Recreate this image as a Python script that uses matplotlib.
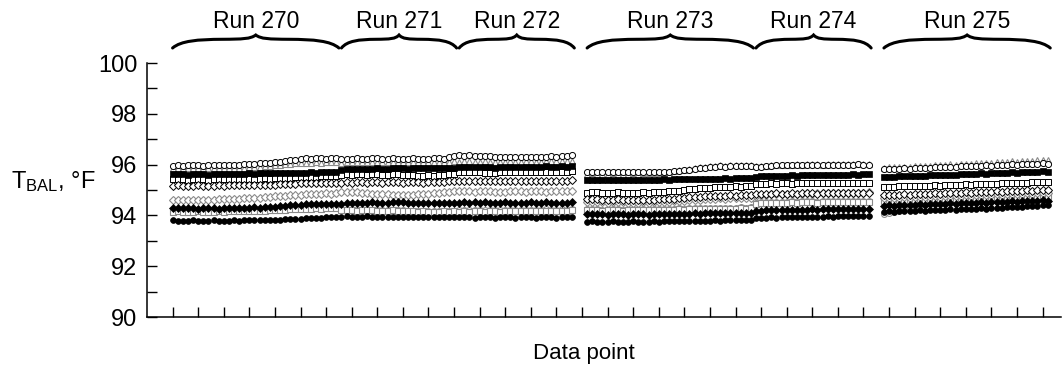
import matplotlib
matplotlib.use('Agg')
import matplotlib.pyplot as plt
import numpy as np
from matplotlib.path import Path
from matplotlib.patches import PathPatch
import matplotlib.transforms as mtransforms

plt.rcParams['font.family'] = ['Liberation Sans', 'DejaVu Sans']
plt.rcParams['mathtext.default'] = 'regular'

# ---------------- data ----------------
run_labels = ['Run 270', 'Run 271', 'Run 272', 'Run 273', 'Run 274', 'Run 275']
run_start = [5, 38, 61, 86, 119, 144]          # first data point index of each run
x_ticks = list(range(5, 180, 5))
y_ticks = [90, 92, 94, 96, 98, 100]

s_open_circle = [
    [95.96, 95.97, 95.96, 95.97, 95.98, 95.97, 95.96, 95.97, 95.98, 95.97, 95.98, 95.99, 95.98, 96.00, 96.01, 96.02, 96.03, 96.05, 96.06, 96.08, 96.10, 96.12, 96.15, 96.18, 96.20, 96.22, 96.25, 96.24, 96.26, 96.25, 96.24, 96.26, 96.25],
    [96.22, 96.24, 96.23, 96.25, 96.24, 96.23, 96.25, 96.26, 96.24, 96.23, 96.25, 96.24, 96.22, 96.24, 96.25, 96.23, 96.22, 96.24, 96.26, 96.25, 96.23, 96.28, 96.32],
    [96.36, 96.35, 96.37, 96.34, 96.33, 96.35, 96.32, 96.30, 96.31, 96.29, 96.30, 96.28, 96.30, 96.29, 96.31, 96.30, 96.28, 96.30, 96.32, 96.31, 96.33, 96.34, 96.36],
    [95.70, 95.71, 95.70, 95.69, 95.70, 95.71, 95.70, 95.69, 95.70, 95.71, 95.70, 95.69, 95.70, 95.71, 95.72, 95.71, 95.72, 95.74, 95.76, 95.78, 95.80, 95.83, 95.86, 95.88, 95.90, 95.92, 95.93, 95.92, 95.94, 95.93, 95.95, 95.94, 95.95],
    [95.90, 95.92, 95.94, 95.96, 95.97, 95.98, 95.97, 95.98, 95.99, 95.98, 95.97, 95.98, 95.99, 96.00, 95.99, 95.98, 95.99, 96.00, 95.99, 96.00, 96.01, 96.00, 95.99],
    [95.82, 95.83, 95.82, 95.84, 95.85, 95.84, 95.86, 95.87, 95.86, 95.88, 95.89, 95.90, 95.91, 95.90, 95.92, 95.93, 95.94, 95.93, 95.95, 95.96, 95.97, 95.96, 95.98, 95.99, 96.00, 96.01, 96.00, 96.02, 96.03, 96.02, 96.04, 96.05, 96.04],
]
s_gray_triangle = [
    [95.85, 95.86, 95.85, 95.87, 95.86, 95.85, 95.86, 95.87, 95.86, 95.85, 95.86, 95.87, 95.88, 95.87, 95.88, 95.90, 95.91, 95.92, 95.94, 95.95, 95.97, 95.99, 96.01, 96.03, 96.05, 96.06, 96.08, 96.07, 96.09, 96.08, 96.10, 96.09, 96.10],
    [96.08, 96.10, 96.09, 96.11, 96.10, 96.09, 96.11, 96.12, 96.10, 96.09, 96.11, 96.10, 96.09, 96.11, 96.12, 96.10, 96.09, 96.11, 96.12, 96.10, 96.11, 96.12, 96.13],
    [96.12, 96.13, 96.14, 96.12, 96.11, 96.13, 96.12, 96.10, 96.12, 96.11, 96.13, 96.12, 96.11, 96.13, 96.14, 96.12, 96.11, 96.13, 96.14, 96.13, 96.15, 96.14, 96.16],
    [95.64, 95.65, 95.64, 95.63, 95.64, 95.65, 95.64, 95.63, 95.64, 95.65, 95.64, 95.65, 95.66, 95.67, 95.68, 95.70, 95.72, 95.74, 95.77, 95.80, 95.83, 95.86, 95.89, 95.92, 95.94, 95.96, 95.97, 95.96, 95.98, 95.97, 95.99, 95.98, 96.00],
    [95.93, 95.95, 95.96, 95.97, 95.98, 95.99, 96.00, 95.99, 96.01, 96.00, 96.01, 96.02, 96.01, 96.00, 96.02, 96.01, 96.02, 96.03, 96.02, 96.01, 96.03, 96.02, 96.03],
    [95.88, 95.90, 95.89, 95.91, 95.92, 95.91, 95.93, 95.95, 95.94, 95.96, 95.98, 95.97, 95.99, 96.01, 96.00, 96.02, 96.04, 96.03, 96.05, 96.07, 96.06, 96.08, 96.10, 96.09, 96.11, 96.13, 96.12, 96.14, 96.16, 96.15, 96.17, 96.18, 96.17],
]
s_filled_square = [
    [95.62, 95.63, 95.62, 95.61, 95.62, 95.63, 95.62, 95.61, 95.62, 95.63, 95.62, 95.63, 95.64, 95.63, 95.64, 95.65, 95.64, 95.65, 95.66, 95.65, 95.66, 95.67, 95.66, 95.67, 95.68, 95.67, 95.68, 95.69, 95.68, 95.69, 95.70, 95.69, 95.70],
    [95.80, 95.82, 95.81, 95.83, 95.82, 95.84, 95.83, 95.85, 95.84, 95.83, 95.85, 95.86, 95.85, 95.84, 95.86, 95.87, 95.86, 95.85, 95.87, 95.88, 95.87, 95.86, 95.88],
    [95.90, 95.91, 95.89, 95.92, 95.90, 95.91, 95.89, 95.88, 95.90, 95.91, 95.92, 95.90, 95.89, 95.91, 95.92, 95.90, 95.91, 95.93, 95.92, 95.91, 95.93, 95.92, 95.94],
    [95.40, 95.41, 95.40, 95.39, 95.40, 95.41, 95.40, 95.39, 95.38, 95.40, 95.41, 95.40, 95.39, 95.40, 95.41, 95.42, 95.41, 95.42, 95.43, 95.42, 95.43, 95.44, 95.43, 95.44, 95.45, 95.44, 95.45, 95.46, 95.45, 95.46, 95.47, 95.46, 95.47],
    [95.52, 95.54, 95.55, 95.56, 95.55, 95.57, 95.56, 95.58, 95.57, 95.58, 95.59, 95.58, 95.59, 95.60, 95.59, 95.60, 95.61, 95.60, 95.61, 95.62, 95.61, 95.62, 95.63],
    [95.52, 95.53, 95.52, 95.54, 95.55, 95.54, 95.56, 95.57, 95.56, 95.58, 95.59, 95.58, 95.60, 95.61, 95.60, 95.62, 95.63, 95.62, 95.64, 95.65, 95.64, 95.66, 95.67, 95.66, 95.68, 95.69, 95.68, 95.70, 95.71, 95.70, 95.72, 95.73, 95.72],
]
s_open_square = [
    [95.42, 95.43, 95.42, 95.41, 95.42, 95.43, 95.42, 95.41, 95.42, 95.43, 95.42, 95.43, 95.44, 95.43, 95.44, 95.45, 95.44, 95.45, 95.46, 95.45, 95.47, 95.48, 95.47, 95.49, 95.50, 95.51, 95.52, 95.53, 95.52, 95.54, 95.55, 95.54, 95.55],
    [95.60, 95.62, 95.61, 95.63, 95.62, 95.61, 95.63, 95.62, 95.60, 95.61, 95.62, 95.63, 95.61, 95.60, 95.58, 95.57, 95.56, 95.58, 95.57, 95.59, 95.60, 95.62, 95.64],
    [95.70, 95.71, 95.69, 95.72, 95.70, 95.66, 95.68, 95.67, 95.69, 95.70, 95.71, 95.70, 95.69, 95.71, 95.72, 95.70, 95.71, 95.72, 95.71, 95.70, 95.72, 95.71, 95.73],
    [94.90, 94.92, 94.91, 94.90, 94.89, 94.90, 94.91, 94.90, 94.89, 94.88, 94.90, 94.91, 94.90, 94.92, 94.93, 94.94, 94.95, 94.96, 94.98, 95.00, 95.02, 95.04, 95.06, 95.08, 95.09, 95.10, 95.12, 95.11, 95.13, 95.14, 95.13, 95.15, 95.16],
    [95.22, 95.24, 95.25, 95.26, 95.25, 95.27, 95.26, 95.25, 95.27, 95.26, 95.27, 95.28, 95.27, 95.26, 95.28, 95.27, 95.28, 95.29, 95.28, 95.27, 95.29, 95.28, 95.29],
    [95.12, 95.13, 95.12, 95.14, 95.15, 95.14, 95.16, 95.15, 95.16, 95.17, 95.18, 95.17, 95.19, 95.20, 95.19, 95.21, 95.22, 95.21, 95.23, 95.22, 95.24, 95.25, 95.24, 95.26, 95.27, 95.26, 95.28, 95.29, 95.28, 95.30, 95.31, 95.30, 95.32],
]
s_open_diamond = [
    [95.17, 95.18, 95.17, 95.16, 95.17, 95.18, 95.17, 95.16, 95.17, 95.18, 95.17, 95.18, 95.19, 95.18, 95.19, 95.20, 95.19, 95.20, 95.21, 95.20, 95.21, 95.22, 95.23, 95.24, 95.25, 95.26, 95.27, 95.26, 95.28, 95.27, 95.28, 95.29, 95.28],
    [95.28, 95.30, 95.29, 95.31, 95.30, 95.29, 95.31, 95.30, 95.29, 95.30, 95.31, 95.30, 95.29, 95.31, 95.32, 95.30, 95.29, 95.31, 95.32, 95.31, 95.33, 95.34, 95.36],
    [95.34, 95.35, 95.34, 95.36, 95.35, 95.34, 95.36, 95.35, 95.34, 95.35, 95.36, 95.35, 95.34, 95.36, 95.37, 95.35, 95.36, 95.37, 95.36, 95.35, 95.37, 95.36, 95.38],
    [94.64, 94.65, 94.64, 94.62, 94.61, 94.62, 94.63, 94.62, 94.61, 94.60, 94.61, 94.62, 94.61, 94.62, 94.63, 94.64, 94.65, 94.66, 94.68, 94.70, 94.71, 94.72, 94.74, 94.75, 94.76, 94.77, 94.78, 94.77, 94.79, 94.78, 94.80, 94.79, 94.80],
    [94.84, 94.85, 94.86, 94.85, 94.87, 94.86, 94.85, 94.87, 94.86, 94.87, 94.88, 94.87, 94.86, 94.88, 94.87, 94.88, 94.89, 94.88, 94.87, 94.89, 94.88, 94.89, 94.90],
    [94.80, 94.81, 94.80, 94.82, 94.83, 94.82, 94.84, 94.85, 94.84, 94.86, 94.87, 94.86, 94.88, 94.89, 94.88, 94.90, 94.91, 94.90, 94.92, 94.93, 94.92, 94.94, 94.95, 94.94, 94.96, 94.97, 94.96, 94.98, 94.99, 94.98, 95.00, 95.01, 95.00],
]
s_gray_diamond = [
    [94.60, 94.61, 94.60, 94.59, 94.60, 94.61, 94.62, 94.61, 94.62, 94.63, 94.64, 94.63, 94.65, 94.66, 94.67, 94.68, 94.69, 94.70, 94.72, 94.73, 94.75, 94.76, 94.78, 94.79, 94.80, 94.82, 94.83, 94.84, 94.85, 94.86, 94.87, 94.86, 94.88],
    [94.92, 94.93, 94.92, 94.91, 94.90, 94.88, 94.86, 94.85, 94.84, 94.83, 94.82, 94.81, 94.80, 94.81, 94.82, 94.83, 94.84, 94.86, 94.88, 94.90, 94.91, 94.93, 94.95],
    [94.95, 94.96, 94.95, 94.94, 94.95, 94.96, 94.95, 94.94, 94.93, 94.94, 94.95, 94.96, 94.95, 94.94, 94.95, 94.96, 94.95, 94.94, 94.95, 94.96, 94.95, 94.96, 94.97],
    [94.52, 94.53, 94.52, 94.51, 94.50, 94.51, 94.52, 94.51, 94.50, 94.49, 94.50, 94.51, 94.50, 94.51, 94.52, 94.53, 94.54, 94.55, 94.57, 94.58, 94.60, 94.61, 94.62, 94.63, 94.65, 94.66, 94.67, 94.66, 94.68, 94.67, 94.69, 94.68, 94.70],
    [94.78, 94.80, 94.82, 94.83, 94.84, 94.85, 94.84, 94.86, 94.85, 94.86, 94.87, 94.86, 94.87, 94.88, 94.87, 94.88, 94.89, 94.88, 94.89, 94.90, 94.89, 94.90, 94.91],
    [94.68, 94.69, 94.68, 94.70, 94.71, 94.70, 94.72, 94.73, 94.72, 94.74, 94.75, 94.74, 94.76, 94.77, 94.76, 94.78, 94.79, 94.78, 94.80, 94.81, 94.80, 94.82, 94.83, 94.82, 94.84, 94.85, 94.84, 94.86, 94.87, 94.86, 94.88, 94.89, 94.88],
]
s_filled_diamond = [
    [94.30, 94.29, 94.28, 94.29, 94.28, 94.27, 94.28, 94.29, 94.28, 94.27, 94.28, 94.29, 94.30, 94.29, 94.30, 94.31, 94.32, 94.31, 94.33, 94.34, 94.35, 94.36, 94.38, 94.39, 94.41, 94.42, 94.43, 94.44, 94.45, 94.44, 94.46, 94.45, 94.46],
    [94.46, 94.48, 94.47, 94.49, 94.50, 94.49, 94.51, 94.50, 94.49, 94.50, 94.51, 94.52, 94.51, 94.50, 94.49, 94.48, 94.47, 94.48, 94.49, 94.48, 94.47, 94.48, 94.49],
    [94.50, 94.51, 94.49, 94.52, 94.50, 94.51, 94.49, 94.48, 94.50, 94.51, 94.50, 94.49, 94.48, 94.50, 94.51, 94.49, 94.50, 94.51, 94.50, 94.49, 94.50, 94.49, 94.51],
    [94.05, 94.06, 94.04, 94.05, 94.03, 94.04, 94.05, 94.04, 94.03, 94.04, 94.05, 94.04, 94.03, 94.04, 94.05, 94.06, 94.05, 94.06, 94.07, 94.06, 94.07, 94.08, 94.07, 94.08, 94.09, 94.08, 94.09, 94.10, 94.09, 94.10, 94.11, 94.10, 94.11],
    [94.18, 94.19, 94.20, 94.21, 94.20, 94.22, 94.21, 94.22, 94.23, 94.22, 94.23, 94.24, 94.23, 94.24, 94.25, 94.24, 94.25, 94.26, 94.25, 94.26, 94.27, 94.26, 94.27],
    [94.38, 94.39, 94.38, 94.40, 94.41, 94.40, 94.42, 94.43, 94.42, 94.44, 94.45, 94.44, 94.46, 94.47, 94.46, 94.48, 94.49, 94.48, 94.50, 94.51, 94.50, 94.52, 94.53, 94.52, 94.54, 94.55, 94.54, 94.56, 94.57, 94.56, 94.58, 94.59, 94.58],
]
s_gray_square = [
    [94.15, 94.16, 94.15, 94.14, 94.15, 94.16, 94.15, 94.14, 94.15, 94.16, 94.15, 94.16, 94.17, 94.16, 94.17, 94.18, 94.17, 94.18, 94.19, 94.20, 94.21, 94.22, 94.23, 94.24, 94.25, 94.26, 94.27, 94.26, 94.28, 94.27, 94.28, 94.29, 94.28],
    [94.20, 94.21, 94.20, 94.19, 94.20, 94.21, 94.20, 94.19, 94.18, 94.19, 94.20, 94.19, 94.18, 94.17, 94.16, 94.15, 94.16, 94.15, 94.14, 94.15, 94.16, 94.15, 94.16],
    [94.15, 94.16, 94.15, 94.17, 94.16, 94.15, 94.17, 94.16, 94.15, 94.16, 94.17, 94.18, 94.17, 94.16, 94.18, 94.17, 94.18, 94.19, 94.18, 94.17, 94.19, 94.18, 94.20],
    [94.20, 94.21, 94.20, 94.19, 94.20, 94.21, 94.20, 94.19, 94.20, 94.21, 94.20, 94.21, 94.22, 94.21, 94.22, 94.23, 94.22, 94.23, 94.24, 94.23, 94.24, 94.25, 94.24, 94.25, 94.26, 94.25, 94.26, 94.27, 94.26, 94.27, 94.28, 94.27, 94.28],
    [94.46, 94.48, 94.49, 94.48, 94.50, 94.49, 94.50, 94.51, 94.50, 94.51, 94.52, 94.51, 94.50, 94.52, 94.51, 94.52, 94.53, 94.52, 94.51, 94.53, 94.52, 94.53, 94.54],
    [94.55, 94.56, 94.55, 94.57, 94.58, 94.57, 94.59, 94.60, 94.59, 94.61, 94.62, 94.61, 94.63, 94.64, 94.63, 94.65, 94.66, 94.65, 94.67, 94.68, 94.67, 94.69, 94.70, 94.69, 94.71, 94.72, 94.71, 94.73, 94.74, 94.73, 94.75, 94.76, 94.75],
]
s_filled_circle = [
    [93.80, 93.79, 93.78, 93.79, 93.80, 93.79, 93.78, 93.79, 93.80, 93.79, 93.78, 93.79, 93.80, 93.79, 93.80, 93.81, 93.80, 93.81, 93.82, 93.81, 93.82, 93.83, 93.84, 93.85, 93.86, 93.87, 93.88, 93.89, 93.90, 93.91, 93.92, 93.93, 93.95],
    [93.95, 93.96, 93.95, 93.94, 93.95, 93.96, 93.95, 93.94, 93.93, 93.94, 93.95, 93.94, 93.93, 93.94, 93.95, 93.94, 93.93, 93.94, 93.95, 93.94, 93.93, 93.94, 93.95],
    [93.92, 93.93, 93.92, 93.91, 93.92, 93.93, 93.92, 93.91, 93.92, 93.93, 93.92, 93.91, 93.92, 93.93, 93.92, 93.91, 93.92, 93.93, 93.92, 93.91, 93.92, 93.93, 93.92],
    [93.75, 93.76, 93.75, 93.74, 93.75, 93.76, 93.75, 93.74, 93.75, 93.76, 93.75, 93.74, 93.75, 93.76, 93.75, 93.76, 93.77, 93.76, 93.77, 93.78, 93.77, 93.78, 93.79, 93.78, 93.79, 93.80, 93.79, 93.80, 93.81, 93.80, 93.81, 93.82, 93.81],
    [93.88, 93.90, 93.91, 93.92, 93.91, 93.93, 93.92, 93.93, 93.94, 93.93, 93.94, 93.95, 93.94, 93.95, 93.96, 93.95, 93.96, 93.97, 93.96, 93.97, 93.98, 93.97, 93.98],
    [94.15, 94.16, 94.15, 94.17, 94.18, 94.17, 94.19, 94.20, 94.19, 94.21, 94.22, 94.21, 94.23, 94.24, 94.23, 94.25, 94.26, 94.25, 94.27, 94.28, 94.27, 94.29, 94.30, 94.31, 94.32, 94.33, 94.34, 94.35, 94.36, 94.37, 94.38, 94.39, 94.40],
]
s_gray_circle = [
    [95.46, 95.45, 95.44, 95.45, 95.46, 95.45, 95.44, 95.45, 95.46, 95.45, 95.46, 95.47, 95.46, 95.47, 95.48, 95.47, 95.48, 95.49, 95.50, 95.51, 95.52, 95.54, 95.55, 95.57, 95.58, 95.60, 95.61, 95.62, 95.63, 95.62, 95.64, 95.63, 95.64],
    [94.22, 94.23, 94.22, 94.21, 94.22, 94.23, 94.22, 94.21, 94.20, 94.21, 94.22, 94.21, 94.20, 94.19, 94.18, 94.17, 94.18, 94.17, 94.16, 94.17, 94.18, 94.17, 94.18],
    [94.20, 94.21, 94.20, 94.22, 94.21, 94.20, 94.22, 94.21, 94.20, 94.21, 94.22, 94.23, 94.22, 94.21, 94.23, 94.22, 94.23, 94.24, 94.23, 94.22, 94.24, 94.23, 94.25],
    [94.24, 94.25, 94.24, 94.23, 94.24, 94.25, 94.24, 94.23, 94.24, 94.25, 94.24, 94.25, 94.26, 94.25, 94.26, 94.27, 94.26, 94.27, 94.28, 94.27, 94.28, 94.29, 94.28, 94.29, 94.30, 94.29, 94.30, 94.31, 94.30, 94.31, 94.32, 94.31, 94.32],
    [94.50, 94.52, 94.53, 94.52, 94.54, 94.53, 94.54, 94.55, 94.54, 94.55, 94.56, 94.55, 94.54, 94.56, 94.55, 94.56, 94.57, 94.56, 94.55, 94.57, 94.56, 94.57, 94.58],
    [94.05, 94.08, 94.12, 94.18, 94.25, 94.32, 94.38, 94.42, 94.45, 94.47, 94.48, 94.49, 94.50, 94.51, 94.50, 94.52, 94.53, 94.52, 94.54, 94.55, 94.54, 94.56, 94.57, 94.56, 94.58, 94.59, 94.58, 94.60, 94.61, 94.60, 94.62, 94.63, 94.62],
]

# ---------------- styles ----------------
GRAY = '#8a8a8a'
series = [
    (s_gray_circle,    dict(marker='o', ms=4.2, mfc='white', mec=GRAY,    mew=0.8)),
    (s_gray_square,    dict(marker='s', ms=4.0, mfc='white', mec=GRAY,    mew=0.8)),
    (s_gray_diamond,   dict(marker='D', ms=3.6, mfc='white', mec=GRAY,    mew=0.8)),
    (s_gray_triangle,  dict(marker='^', ms=4.4, mfc='white', mec=GRAY,    mew=0.8)),
    (s_open_circle,    dict(marker='o', ms=4.4, mfc='white', mec='black', mew=0.7)),
    (s_open_square,    dict(marker='s', ms=4.2, mfc='white', mec='black', mew=0.7)),
    (s_open_diamond,   dict(marker='D', ms=3.8, mfc='white', mec='black', mew=0.7)),
    (s_filled_square,  dict(marker='s', ms=4.2, mfc='black', mec='black', mew=0.5)),
    (s_filled_diamond, dict(marker='D', ms=3.8, mfc='black', mec='black', mew=0.5)),
    (s_filled_circle,  dict(marker='o', ms=4.2, mfc='black', mec='black', mew=0.5)),
]

W, H = 1062, 367
fig = plt.figure(figsize=(W / 100, H / 100), dpi=100)
ax_l, ax_r, ax_b, ax_t = 147, 1061, 50, 304   # pixels (bottom/top measured from bottom)
ax = fig.add_axes([ax_l / W, ax_b / H, (ax_r - ax_l) / W, (ax_t - ax_b) / H])

for data, st in series:
    for start, vals in zip(run_start, data):
        xs = np.arange(start, start + len(vals))
        ax.plot(xs, vals, linestyle='none', clip_on=False, **st)

ax.set_xlim(0, 178.6)
ax.set_ylim(90, 100)
ax.spines['top'].set_visible(False)
ax.spines['right'].set_visible(False)
for sp in ('left', 'bottom'):
    ax.spines[sp].set_linewidth(1.1)

ax.set_xticks(x_ticks)
ax.set_xticklabels([])
ax.set_yticks(y_ticks)
ax.set_yticks([91, 93, 95, 97, 99], minor=True)
ax.tick_params(axis='both', which='both', direction='in', length=7.2, width=1.0)
ax.tick_params(axis='y', which='major', labelsize=17, pad=7)

# y label (horizontal)
fig.text(11 / W, 1 - 188 / H, r'$\mathregular{T_{BAL}}$, °F', fontsize=17,
         ha='left', va='baseline')
# x label
fig.text(584 / W, 1 - 353 / H, 'Data point', fontsize=16, ha='center', va='center')

# braces and run labels
trans = mtransforms.blended_transform_factory(ax.transData, ax.transAxes)
axh = ax_t - ax_b
def brace(x0, x1, ybot_px, h_px):
    y0 = (317 - ybot_px) / axh
    h = h_px / axh
    w = x1 - x0
    xm = (x0 + x1) / 2
    verts = [
        (x0, y0),
        (x0 + 0.05 * w, y0 + 0.55 * h), (x0 + 0.15 * w, y0 + 0.66 * h), (x0 + 0.30 * w, y0 + 0.67 * h),
        (x0 + 0.42 * w, y0 + 0.68 * h), (xm - 0.03 * w, y0 + 0.70 * h), (xm, y0 + h),
        (xm + 0.03 * w, y0 + 0.70 * h), (x1 - 0.42 * w, y0 + 0.68 * h), (x1 - 0.30 * w, y0 + 0.67 * h),
        (x1 - 0.15 * w, y0 + 0.66 * h), (x1 - 0.05 * w, y0 + 0.55 * h), (x1, y0),
    ]
    codes = [Path.MOVETO] + [Path.CURVE4] * 12
    patch = PathPatch(Path(verts, codes), transform=trans, fill=False,
                      lw=2.2, edgecolor='black', clip_on=False, capstyle='round')
    ax.add_patch(patch)

for label, start, data in zip(run_labels, run_start, s_filled_circle):
    x0 = start
    x1 = start + len(data) - 0.5
    brace(x0, x1, 48, 13)
    ax.text((x0 + x1) / 2, (317 - 22) / axh, label, transform=trans,
            ha='center', va='center', fontsize=16.5)

fig.savefig('out.png', dpi=100)
